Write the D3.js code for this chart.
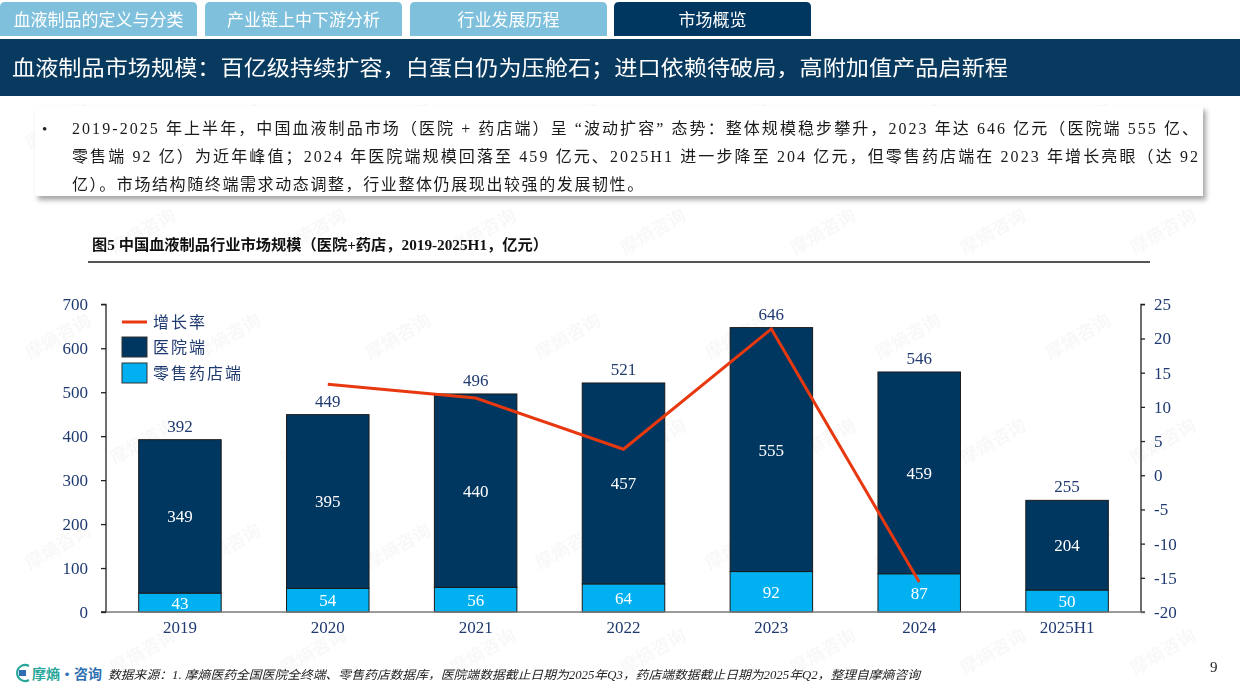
<!DOCTYPE html>
<html>
<head>
<meta charset="utf-8">
<title></title>
<script src="https://cdn.jsdelivr.net/npm/d3@7"></script>
<style>
  body, html{ margin: 0; width: 100%; height: 100%; background: #fff; }
  svg{ display: block; }
  text{ font-family: "Liberation Serif", "Noto Sans CJK SC", serif; }
</style>
</head>
<body>
<svg id="chart" width="1240" height="697"></svg>
<script>
// chart data
var categories = ['2019', '2020', '2021', '2022', '2023', '2024', '2025H1']
var hospital = [349, 395, 440, 457, 555, 459, 204]
var retail = [43, 54, 56, 64, 92, 87, 50]
var totals = [392, 449, 496, 521, 646, 546, 255]
var growth = [null, 13.3, 11.3, 3.8, 21.4, -15.6, null]
var leftTicks = [0, 100, 200, 300, 400, 500, 600, 700]
var rightTicks = [-20, -15, -10, -5, 0, 5, 10, 15, 20, 25]

var tabs = ['血液制品的定义与分类', '产业链上中下游分析', '行业发展历程', '市场概览']
var pageTitle = '血液制品市场规模：百亿级持续扩容，白蛋白仍为压舱石；进口依赖待破局，高附加值产品启新程'
var bullet = [
  '2019-2025 年上半年，中国血液制品市场（医院 + 药店端）呈 “波动扩容” 态势：整体规模稳步攀升，2023 年达 646 亿元（医院端 555 亿、',
  '零售端 92 亿）为近年峰值；2024 年医院端规模回落至 459 亿元、2025H1 进一步降至 204 亿元，但零售药店端在 2023 年增长亮眼（达 92',
  '亿）。市场结构随终端需求动态调整，行业整体仍展现出较强的发展韧性。'
]
var chartTitle = '图5 中国血液制品行业市场规模（医院+药店，2019-2025H1，亿元）'
var source = '数据来源：1. 摩熵医药全国医院全终端、零售药店数据库，医院端数据截止日期为2025年Q3，药店端数据截止日期为2025年Q2，整理自摩熵咨询'

var NAVY = '#003761', CYAN = '#00b0f0', RED = '#e8380f', TICK = '#1f3a70'

var svg = d3.select('#chart')

// faint watermarks
var wm = svg.append('g').attr('fill', '#000').attr('opacity', 0.03)
  .style('font-size', '18px').style('font-weight', 'bold')
d3.range(0, 6).forEach(function(r){
  d3.range(0, 7).forEach(function(c){
    var wx = 30 + c * 170 + (r % 2) * 85, wy = 150 + r * 105
    if(wx > 1150) return
    wm.append('text').attr('transform', 'translate(' + wx + ',' + wy + ') rotate(-30)')
      .style('font-family', '"Noto Sans CJK SC"').text('摩熵咨询')
  })
})

// tabs
var tabX = [0, 205, 410, 614], tabW = 197
tabs.forEach(function(t, i){
  var active = i === 3
  svg.append('path')
    .attr('d', 'M' + tabX[i] + ',36 V7 q0,-5 5,-5 H' + (tabX[i] + tabW - 5) + ' q5,0 5,5 V36 Z')
    .attr('fill', active ? NAVY : '#7fc0dd')
  svg.append('text').attr('x', tabX[i] + tabW / 2).attr('y', 26)
    .attr('text-anchor', 'middle').attr('fill', '#fff')
    .style('font-size', '17px').style('font-family', '"Noto Sans CJK SC"')
    .text(t)
})

// title bar
svg.append('rect').attr('x', 0).attr('y', 39).attr('width', 1240).attr('height', 57).attr('fill', '#08395f')
svg.append('text').attr('x', 12).attr('y', 75).attr('fill', '#fff')
  .attr('textLength', 996).attr('lengthAdjust', 'spacingAndGlyphs')
  .style('font-size', '21px').style('font-family', '"Noto Sans CJK SC"')
  .text(pageTitle)

// bullet box with shadow
var defs = svg.append('defs')
var f = defs.append('filter').attr('id', 'shadow').attr('x', '-5%').attr('y', '-20%').attr('width', '110%').attr('height', '150%')
f.append('feDropShadow').attr('dx', 3).attr('dy', 4).attr('stdDeviation', 2.5).attr('flood-color', '#000').attr('flood-opacity', 0.35)
svg.append('rect').attr('x', 35).attr('y', 106).attr('width', 1168).attr('height', 90)
  .attr('fill', '#fff').attr('filter', 'url(#shadow)')
svg.append('text').attr('x', 42).attr('y', 134).attr('fill', '#222').style('font-size', '15px').text('•')
bullet.forEach(function(line, i){
  var t = svg.append('text').attr('x', 72).attr('y', 134 + i * 28)
    .attr('fill', '#1a1a1a').style('font-size', '16px').text(line)
  if(i < 2) t.attr('textLength', 1126).attr('lengthAdjust', 'spacing')
  else t.attr('letter-spacing', 1.6)
})

// chart title
svg.append('text').attr('x', 92).attr('y', 250).attr('fill', '#111')
  .attr('textLength', 456).attr('lengthAdjust', 'spacingAndGlyphs')
  .style('font-size', '15px').style('font-weight', 'bold').text(chartTitle)
svg.append('line').attr('x1', 88).attr('x2', 1150).attr('y1', 262).attr('y2', 262)
  .attr('stroke', '#555').attr('stroke-width', 2)

// scales
var plotL = 106, plotR = 1141, plotT = 304.3, plotB = 612
var x = d3.scaleBand().domain(categories).range([plotL, plotR]).padding(0)
var barW = x.bandwidth() * 0.558
var y = d3.scaleLinear().domain([0, 700]).range([plotB, plotT])
var y2 = d3.scaleLinear().domain([-20, 25]).range([plotB, plotT])
var cx = function(d){ return x(d) + x.bandwidth() / 2 }

// bars
var g = svg.append('g')
categories.forEach(function(c, i){
  g.append('rect').attr('x', cx(c) - barW / 2).attr('y', y(retail[i]))
    .attr('width', barW).attr('height', y(0) - y(retail[i]))
    .attr('fill', CYAN).attr('stroke', '#1a1a1a').attr('stroke-width', 1)
  g.append('rect').attr('x', cx(c) - barW / 2).attr('y', y(retail[i] + hospital[i]))
    .attr('width', barW).attr('height', y(retail[i]) - y(retail[i] + hospital[i]))
    .attr('fill', NAVY).attr('stroke', '#1a1a1a').attr('stroke-width', 1)
  g.append('text').attr('x', cx(c)).attr('y', y(retail[i] + hospital[i]) - 8)
    .attr('text-anchor', 'middle').attr('fill', TICK).style('font-size', '17px').text(totals[i])
  g.append('text').attr('x', cx(c)).attr('y', (y(retail[i]) + y(retail[i] + hospital[i])) / 2 + 6)
    .attr('text-anchor', 'middle').attr('fill', '#fff').style('font-size', '17px').text(hospital[i])
  g.append('text').attr('x', cx(c)).attr('y', (y(0) + y(retail[i])) / 2 + 6)
    .attr('text-anchor', 'middle').attr('fill', '#fff').style('font-size', '17px').text(retail[i])
})

// axes
var axL = svg.append('g').attr('transform', 'translate(' + plotL + ',0)')
  .call(d3.axisLeft(y).tickValues(leftTicks).tickFormat(String).tickSize(5).tickPadding(13))
var axR = svg.append('g').attr('transform', 'translate(' + plotR + ',0)')
  .call(d3.axisRight(y2).tickValues(rightTicks).tickFormat(String).tickSize(4).tickPadding(9))
;[axL, axR].forEach(function(a){
  a.select('.domain').attr('stroke', '#222').attr('stroke-width', 1.3)
  a.selectAll('.tick line').attr('stroke', '#222').attr('stroke-width', 1.3)
  a.selectAll('.tick text').attr('fill', TICK).style('font-size', '17px')
    .style('font-family', '"Liberation Serif", serif')
})
axL.select('.domain').attr('d', 'M-5,' + plotT + 'H0V' + plotB + 'H-5')
axR.select('.domain').attr('d', 'M4,' + plotT + 'H0V' + plotB + 'H4')

svg.append('line').attr('x1', plotL).attr('x2', plotR + 4).attr('y1', plotB).attr('y2', plotB)
  .attr('stroke', '#7a7a7a').attr('stroke-width', 1.5)
var axB = svg.append('g').attr('transform', 'translate(0,' + plotB + ')')
  .call(d3.axisBottom(x).tickSize(0).tickPadding(9))
axB.select('.domain').remove()
axB.selectAll('.tick text').attr('fill', TICK).style('font-size', '17px')
  .style('font-family', '"Liberation Serif", serif')

// growth line
var pts = categories.map(function(c, i){ return [cx(c), growth[i]] })
  .filter(function(p){ return p[1] !== null })
svg.append('path').datum(pts)
  .attr('d', d3.line().x(function(d){ return d[0] }).y(function(d){ return y2(d[1]) }))
  .attr('fill', 'none').attr('stroke', RED).attr('stroke-width', 3)

// legend
var lg = svg.append('g').attr('transform', 'translate(122,0)')
lg.append('line').attr('x1', 0).attr('x2', 25).attr('y1', 322).attr('y2', 322).attr('stroke', RED).attr('stroke-width', 3)
lg.append('rect').attr('x', 0).attr('y', 337).attr('width', 25).attr('height', 20).attr('fill', NAVY).attr('stroke', '#333')
lg.append('rect').attr('x', 0).attr('y', 363).attr('width', 25).attr('height', 20).attr('fill', CYAN).attr('stroke', '#333')
;[['增长率', 328], ['医院端', 353], ['零售药店端', 379]].forEach(function(d){
  lg.append('text').attr('x', 31).attr('y', d[1]).attr('fill', TICK)
    .style('font-size', '16px').style('font-family', '"Noto Sans CJK SC"')
    .attr('letter-spacing', 2).text(d[0])
})

// footer
var logo = svg.append('g').attr('transform', 'translate(15,664)')
logo.append('path').attr('d', 'M14,2 A8,8 0 1 0 14,16').attr('fill', 'none')
  .attr('stroke', '#2aa79b').attr('stroke-width', 2.2)
logo.append('rect').attr('x', 4).attr('y', 6).attr('width', 7).attr('height', 6).attr('fill', '#2f6fb3')
logo.append('text').attr('x', 17).attr('y', 15).attr('fill', '#2aa79b')
  .style('font-size', '14px').style('font-weight', 'bold').style('font-family', '"Noto Sans CJK SC"').text('摩熵')
logo.append('text').attr('x', 45).attr('y', 15).attr('fill', '#2f6fb3')
  .style('font-size', '14px').style('font-weight', 'bold').style('font-family', '"Noto Sans CJK SC"').text('·咨询')

svg.append('text').attr('x', 108).attr('y', 679).attr('fill', '#222')
  .attr('textLength', 812).attr('lengthAdjust', 'spacingAndGlyphs')
  .style('font-size', '12px').style('font-style', 'italic').text(source)
svg.append('text').attr('x', 1210).attr('y', 672).attr('fill', '#222')
  .style('font-size', '15px').text('9')
</script>
</body>
</html>
